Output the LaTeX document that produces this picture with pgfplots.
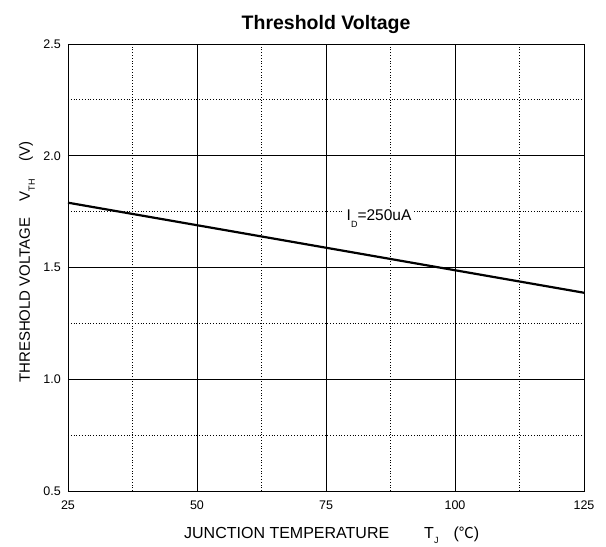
\documentclass[border=0pt]{standalone}
\usepackage{pgfplots}
\pgfplotsset{compat=1.18}
\usepackage{fontspec}
\setmainfont{Liberation Sans}
\newfontfamily\cjk{Noto Sans CJK SC}
\begin{document}
\begin{tikzpicture}
\begin{axis}[
  scale only axis,
  width=516bp, height=447bp,
  xmin=25, xmax=125, ymin=0.5, ymax=2.5,
  xtick={25,50,75,100,125},
  ytick={0.5,1.0,1.5,2.0,2.5},
  minor xtick={37.5,62.5,87.5,112.5},
  minor ytick={0.75,1.25,1.75,2.25},
  grid=both,
  major grid style={black, line width=0.8pt},
  minor grid style={black, line width=0.8pt, dotted},
  axis line style={black, line width=0.8pt},
  tick style={draw=none},
  /pgf/number format/assume math mode=true,
  ticklabel style={font=\fontsize{12.5bp}{14bp}\selectfont, inner sep=0pt},
  yticklabel style={anchor=east, xshift=-7bp, /pgf/number format/fixed, /pgf/number format/fixed zerofill, /pgf/number format/precision=1},
  xticklabel style={anchor=center, yshift=-14bp},
  clip=false,
]
\addplot[black, line width=2.2bp] coordinates {(25,1.790) (125,1.387)};
\node[anchor=base west, fill=white, inner xsep=3bp, inner ysep=2bp, font=\fontsize{15.5bp}{18bp}\selectfont] at (axis cs:78.4,1.712) {I\raisebox{-7bp}{\fontsize{9bp}{10bp}\selectfont D}=250uA};
% title
\node[anchor=base, inner sep=0pt, font=\fontsize{19.5bp}{22bp}\selectfont\bfseries] at ([yshift=14bp]rel axis cs:0.5,1) {Threshold Voltage};
% x label
\node[anchor=base west, inner sep=0pt, font=\fontsize{16bp}{18bp}\selectfont] at ([yshift=-47bp]rel axis cs:0.2248,0) {JUNCTION TEMPERATURE\hspace{35bp}T\raisebox{-5bp}{\fontsize{9bp}{10bp}\selectfont J}\hspace{15bp}({\cjk\fontsize{15bp}{17bp}\selectfont ℃})};
% y label
\node[anchor=base west, rotate=90, inner sep=0pt, font=\fontsize{15bp}{18bp}\selectfont] at ([xshift=-38bp]rel axis cs:0,0.2416) {THRESHOLD VOLTAGE\hspace{16bp}V\raisebox{-5bp}{\fontsize{9bp}{10bp}\selectfont TH}\hspace{18bp}(V)};
\end{axis}
\pgfresetboundingbox
\path (current axis.south west) ++(-68bp,-56bp) rectangle ++(606bp,547bp);
\end{tikzpicture}
\end{document}
